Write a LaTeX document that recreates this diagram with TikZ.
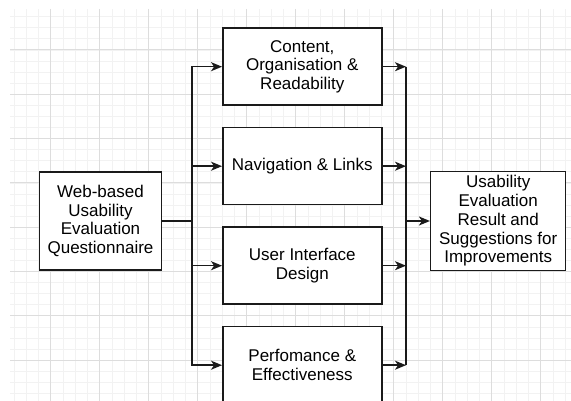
\documentclass[tikz,border=0pt]{standalone}
\usepackage{fontspec}
\setmainfont{Liberation Sans}
\usetikzlibrary{arrows.meta}
\definecolor{gridminor}{HTML}{F2F2F2}
\definecolor{gridmajor}{HTML}{DDDDDD}
\definecolor{ink}{HTML}{1A1A1A}

\begin{document}
\begin{tikzpicture}[x=1pt,y=-1pt,
    box/.style={draw=ink,line width=1.5pt,fill=white,align=center,inner sep=0pt,
      font=\fontsize{17}{18.7}\selectfont},
    crit/.style={box,minimum width=159pt,minimum height=77pt},
    wire/.style={draw=ink,line width=1.5pt},
    arr/.style={wire,-{Stealth[length=11pt,width=9pt,inset=3pt]}}]
  \useasboundingbox (0,0) rectangle (571,401);
  \clip (0,0) rectangle (571,401);
  % grid in the background
  \foreach \k in {-3,...,42}
    \draw[gridminor,line width=0.9pt] ({50.7+12.25*\k},9) -- ({50.7+12.25*\k},401);
  \foreach \k in {-3,...,31}
    \draw[gridminor,line width=0.9pt] (10,{50+11.08*\k}) -- (571,{50+11.08*\k});
  \foreach \k in {0,...,10}
    \draw[gridmajor,line width=1pt] ({50.7+49*\k},9) -- ({50.7+49*\k},401);
  \foreach \k in {0,...,7}
    \draw[gridmajor,line width=1pt] (10,{50+44.3*\k}) -- (571,{50+44.3*\k});

  % boxes
  \node[box,minimum width=122pt,minimum height=98pt] (quest) at (100.5,221)
    {Web-based\\Usability\\Evaluation\\Questionnaire};
  \node[crit] (c1) at (302.3,66.7) {Content,\\Organisation \&\\Readability};
  \node[crit] (c2) at (302.3,166.2) {Navigation \& Links};
  \node[crit] (c3) at (302.3,265.7) {User Interface\\Design};
  \node[crit] (c4) at (302.3,365.2) {Perfomance \&\\Effectiveness};
  \node[box,minimum width=135pt,minimum height=99pt] (result) at (498.2,221)
    {Usability\\Evaluation\\Result and\\Suggestions for\\Improvements};

  % connectors
  \coordinate (split) at (192,221);
  \coordinate (merge) at (406,221);
  \draw[wire] (quest.east) -- (split);
  \foreach \n in {c1,c2,c3,c4} {
    \draw[arr] (split) |- (\n.west);
    \draw[arr] (\n.east) -- (\n.east -| merge);
  }
  \draw[wire] (c1.east -| merge) -- (c4.east -| merge);
  \draw[arr] (merge) -- (result.west);
\end{tikzpicture}
\end{document}
